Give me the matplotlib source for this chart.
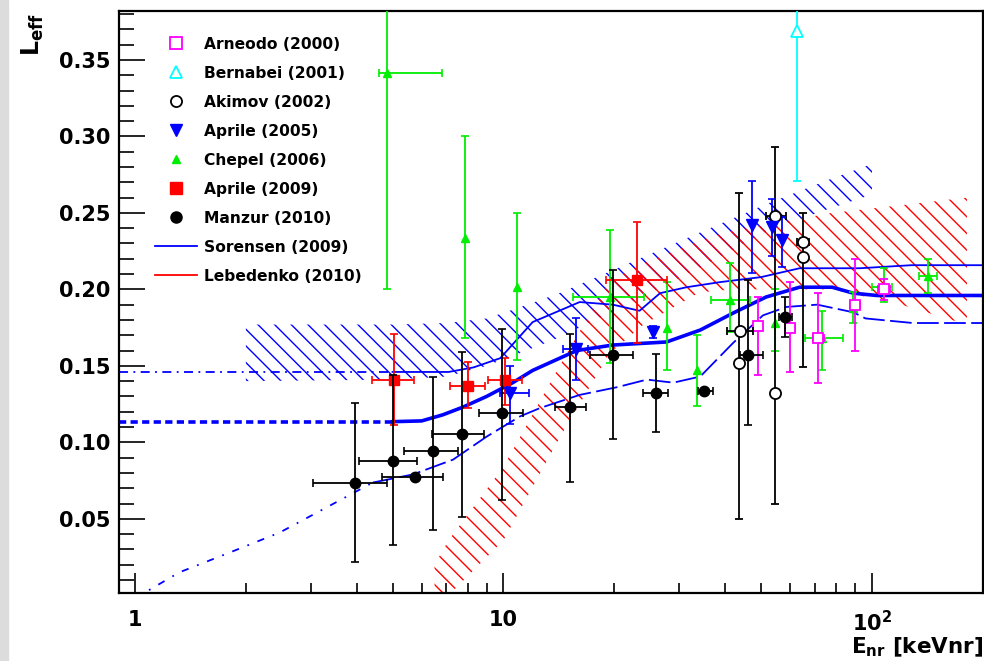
import matplotlib
matplotlib.use('Agg')
import matplotlib.pyplot as plt
from matplotlib.lines import Line2D
from matplotlib.patches import Rectangle
from matplotlib.ticker import MultipleLocator, LogLocator, NullFormatter, FixedLocator
import numpy as np

nan = np.nan

# ---- data ----
# Arneodo (2000)
arn_x = [49.0, 59.9, 71.3, 89.9, 108.0]
arn_y = [0.176, 0.175, 0.168, 0.190, 0.200]
arn_xlo = [nan, 58.0, 69.0, 87.0, 104.0]
arn_xhi = [nan, 62.0, 74.0, 93.0, 112.0]
arn_ylo = [0.144, 0.146, 0.139, 0.160, 0.193]
arn_yhi = [0.195, 0.205, 0.1975, 0.220, 0.207]

# Bernabei (2001)
ber_x = [62.6]
ber_y = [0.369]
ber_ylo = [0.271]
ber_yhi = [0.40]

# Akimov (2002)
aki_x = [54.6, 65.0, 65.0, 43.8, 43.5, 54.6]
aki_y = [0.248, 0.231, 0.221, 0.173, 0.152, 0.132]
aki_xlo = [51.7, 62.5, nan, 40.4, nan, nan]
aki_xhi = [58.6, 67.5, nan, 47.5, nan, nan]
aki_ylo = [nan, nan, 0.149, nan, 0.050, 0.060]
aki_yhi = [nan, nan, 0.250, nan, 0.263, 0.293]

# Aprile (2005)
a05_x = [10.4, 15.7, 25.5, 47.2, 53.5, 57.0]
a05_y = [0.132, 0.161, 0.172, 0.242, 0.241, 0.232]
a05_xlo = [9.8, 14.5, nan, nan, nan, nan]
a05_xhi = [11.7, 17.0, nan, nan, nan, nan]
a05_ylo = [0.112, 0.141, 0.168, 0.2105, 0.222, 0.2145]
a05_yhi = [0.150, 0.181, 0.176, 0.271, 0.259, 0.247]

# Chepel (2006)
che_x = [4.83, 7.87, 10.9, 19.5, 27.8, 33.5, 41.2, 54.6, 73.2, 88.8, 108.0, 142.0]
che_y = [0.3416, 0.2334, 0.2014, 0.195, 0.1747, 0.147, 0.193, 0.178, 0.168, 0.188, 0.2014, 0.2086]
che_xlo = [4.6, nan, nan, 15.4, nan, nan, 36.6, nan, 65.9, nan, 100.0, 134.0]
che_xhi = [6.8, nan, nan, 24.1, nan, nan, 46.6, nan, 83.5, nan, 113.0, 150.0]
che_ylo = [0.200, 0.168, 0.154, 0.152, 0.147, 0.124, 0.172, 0.160, 0.147, 0.178, 0.192, 0.1975]
che_yhi = [0.40, 0.3005, 0.250, 0.2385, 0.205, 0.170, 0.217, 0.200, 0.186, 0.198, 0.214, 0.220]

# Aprile (2009)
a09_x = [5.05, 8.01, 10.1, 23.0]
a09_y = [0.141, 0.137, 0.141, 0.206]
a09_xlo = [4.40, 7.17, 9.07, 19.0]
a09_xhi = [5.71, 8.90, 11.2, 27.8]
a09_ylo = [0.111, 0.1225, 0.1245, 0.165]
a09_yhi = [0.171, 0.1525, 0.155, 0.244]

# Manzur (2010)
man_x = [3.95, 5.0, 5.75, 6.44, 7.72, 9.9, 15.2, 19.8, 25.9, 35.0, 46.1, 58.1]
man_y = [0.0737, 0.088, 0.077, 0.094, 0.1056, 0.119, 0.123, 0.157, 0.132, 0.1336, 0.157, 0.182]
man_xlo = [3.04, 4.05, 4.68, 5.37, 6.4, 8.6, 13.8, 17.2, 23.9, 33.8, 43.8, 56.0]
man_xhi = [4.83, 5.83, 6.85, 7.53, 8.85, 11.3, 16.8, 22.5, 27.9, 37.0, 50.6, 60.5]
man_ylo = [0.0215, 0.0326, nan, 0.043, 0.0515, 0.0626, 0.074, 0.102, 0.107, nan, 0.111, 0.169]
man_yhi = [0.126, 0.144, nan, 0.143, 0.159, 0.174, 0.171, 0.2125, 0.158, nan, 0.206, 0.195]

# Sorensen (2009) curves
sor_mid_x = [5.0, 6.0, 6.85, 7.76, 9.0, 10.6, 12.0, 15.8, 19.8, 27.7, 34.2, 42.0, 51.6, 63.6, 78.0, 89.0, 103.0, 200.0]
sor_mid_y = [0.1135, 0.114, 0.118, 0.123, 0.130, 0.139, 0.147, 0.160, 0.1636, 0.1656, 0.1734, 0.1845, 0.195, 0.2014, 0.2014, 0.1975, 0.196, 0.196]
sor_mid_ext_x = [0.905, 5.0]
sor_mid_ext_y = [0.1135, 0.1135]

sor_up_x = [5.0, 7.1, 8.3, 9.8, 12.0, 16.1, 19.8, 23.4, 26.6, 31.4, 38.6, 50.0, 63.6, 92.6, 128.0, 200.0]
sor_up_y = [0.146, 0.146, 0.149, 0.155, 0.1786, 0.1917, 0.190, 0.186, 0.1975, 0.2014, 0.2047, 0.208, 0.2138, 0.2138, 0.2158, 0.2158]
sor_up_ext_x = [0.905, 5.0]
sor_up_ext_y = [0.146, 0.146]

sor_lo_x = [4.42, 5.68, 7.3, 9.0, 11.1, 12.6, 16.1, 20.3, 24.5, 28.9, 34.2, 42.0, 50.6, 58.6, 71.0, 89.0, 96.0, 129.0, 200.0]
sor_lo_y = [0.0737, 0.079, 0.0887, 0.1037, 0.117, 0.1225, 0.131, 0.136, 0.141, 0.139, 0.143, 0.165, 0.183, 0.1885, 0.190, 0.185, 0.181, 0.178, 0.178]
sor_lo_ext_x = [1.0, 1.32, 1.81, 2.47, 3.17, 4.42]
sor_lo_ext_y = [-0.002, 0.015, 0.028, 0.041, 0.055, 0.0737]

# Sorensen band
sband_x = [2.0, 5.0, 7.0, 9.0, 11.0, 14.0, 20.0, 34.0, 52.0, 75.0, 100.0]
sband_up = [0.177, 0.177, 0.178, 0.181, 0.188, 0.197, 0.213, 0.237, 0.256, 0.271, 0.282]
sband_lo = [0.140, 0.141, 0.143, 0.150, 0.158, 0.168, 0.186, 0.214, 0.238, 0.252, 0.262]

# Lebedenko (2010) band
lband_x = [6.5, 7.1, 10.0, 14.2, 19.4, 24.0, 34.0, 42.0, 78.0, 120.0, 181.0]
lband_up = [0.020, 0.036, 0.084, 0.150, 0.206, 0.217, 0.232, 0.2386, 0.250, 0.255, 0.260]
lband_lo = [-0.010, 0.000, 0.036, 0.103, 0.158, 0.177, 0.198, 0.200, 0.200, 0.190, 0.177]

labels = ['Arneodo (2000)', 'Bernabei (2001)', 'Akimov (2002)', 'Aprile (2005)',
          'Chepel (2006)', 'Aprile (2009)', 'Manzur (2010)', 'Sorensen (2009)', 'Lebedenko (2010)']

plt.rcParams['font.family'] = 'DejaVu Sans'
plt.rcParams['font.weight'] = 'bold'
plt.rcParams['axes.labelweight'] = 'bold'
plt.rcParams['hatch.linewidth'] = 1.0

fig = plt.figure(figsize=(9.84, 6.61), dpi=100)
fig.patches.append(Rectangle((0, 0), 8 / 984, 1, transform=fig.transFigure,
                             color='#dcdcdc', zorder=0))
ax = fig.add_axes([0.1209, 0.1029, 0.8780, 0.8805])
ax.set_xscale('log')


def err(v, lo, hi):
    v = np.array(v, float)
    return np.vstack([v - np.array(lo, float), np.array(hi, float) - v])


def series(x, y, xlo=None, xhi=None, ylo=None, yhi=None, **kw):
    n = len(x)
    if xlo is None:
        xlo = xhi = [nan] * n
    if ylo is None:
        ylo = yhi = [nan] * n
    ax.errorbar(x, y, xerr=err(x, xlo, xhi), yerr=err(y, ylo, yhi), ls='none',
                capsize=3, capthick=1.2, elinewidth=1.3, **kw)


# bands
ax.fill_between(sband_x, sband_lo, sband_up, facecolor='none', edgecolor='#0000ff',
                hatch='\\\\', linewidth=0, zorder=1)
ax.fill_between(lband_x, lband_lo, lband_up, facecolor='none', edgecolor='#ff0000',
                hatch='\\\\', linewidth=0, zorder=1)

# Sorensen curves
ax.plot(sor_mid_x, sor_mid_y, color='#0000ff', lw=2.6, zorder=2)
ax.plot(sor_mid_ext_x, sor_mid_ext_y, color='#0000ff', lw=2.6, ls=(0, (2, 1.2)), zorder=2)
ax.plot(sor_up_x, sor_up_y, color='#0000ff', lw=1.3, zorder=2)
ax.plot(sor_up_ext_x, sor_up_ext_y, color='#0000ff', lw=1.3, ls=(0, (5, 3, 1, 3)), zorder=2)
ax.plot(sor_lo_x, sor_lo_y, color='#0000ff', lw=1.3, ls=(0, (12, 3)), zorder=2)
ax.plot(sor_lo_ext_x, sor_lo_ext_y, color='#0000ff', lw=1.3, ls=(0, (4, 5, 1, 5)), zorder=2)

# data sets
series(che_x, che_y, che_xlo, che_xhi, che_ylo, che_yhi, color='#00ee00', marker='^',
       ms=6, zorder=3)
series(arn_x, arn_y, arn_xlo, arn_xhi, arn_ylo, arn_yhi, color='#ff00ff', marker='s',
       ms=7, mfc='white', mew=1.3, zorder=4)
series(ber_x, ber_y, None, None, ber_ylo, ber_yhi, color='#00ffff', marker='^',
       ms=9, mfc='white', mew=1.3, zorder=4)
series(aki_x, aki_y, aki_xlo, aki_xhi, aki_ylo, aki_yhi, color='black', marker='o',
       ms=8, mfc='white', mew=1.3, zorder=5)
series(a05_x, a05_y, a05_xlo, a05_xhi, a05_ylo, a05_yhi, color='#0000ff', marker='v',
       ms=8, zorder=5)
series(a09_x, a09_y, a09_xlo, a09_xhi, a09_ylo, a09_yhi, color='#ff0000', marker='s',
       ms=7.5, zorder=5)
series(man_x, man_y, man_xlo, man_xhi, man_ylo, man_yhi, color='black', marker='o',
       ms=7.5, zorder=6)

ax.set_xlim(0.905, 200)
ax.set_ylim(0.0015, 0.382)

# axes styling
for s in ax.spines.values():
    s.set_linewidth(1.6)
ax.xaxis.set_major_locator(FixedLocator([1, 10, 100]))
ax.set_xticklabels(['1', '10', r'10$^{\mathbf{2}}$'])
ax.xaxis.set_minor_locator(LogLocator(base=10, subs=np.arange(2, 10), numticks=20))
ax.xaxis.set_minor_formatter(NullFormatter())
ax.set_yticks(np.arange(0.05, 0.351, 0.05))
ax.set_yticklabels(['%.2f' % v for v in np.arange(0.05, 0.351, 0.05)])
ax.yaxis.set_minor_locator(MultipleLocator(0.01))
ax.tick_params(axis='x', which='major', direction='in', length=14.4, width=1.2, pad=12, labelsize=15)
ax.tick_params(axis='x', which='minor', direction='in', length=7.2, width=1.2)
ax.tick_params(axis='y', which='major', direction='in', length=18.7, width=1.2, pad=6, labelsize=15)
ax.tick_params(axis='y', which='minor', direction='in', length=10.8, width=1.2)

ax.set_xlabel(r'E$_{\mathbf{nr}}$ [keVnr]', fontsize=15.5, loc='right')
ax.xaxis.set_label_coords(1.0, -0.074)
ax.set_ylabel(r'L$_{\mathbf{eff}}$', fontsize=17, loc='top')
ax.yaxis.set_label_coords(-0.084, 0.997)

# legend
handles = [
    Line2D([], [], ls='none', marker='s', ms=8, mfc='white', mec='#ff00ff', mew=1.3),
    Line2D([], [], ls='none', marker='^', ms=9, mfc='white', mec='#00ffff', mew=1.3),
    Line2D([], [], ls='none', marker='o', ms=8, mfc='white', mec='black', mew=1.3),
    Line2D([], [], ls='none', marker='v', ms=8, color='#0000ff'),
    Line2D([], [], ls='none', marker='^', ms=6, color='#00ee00'),
    Line2D([], [], ls='none', marker='s', ms=8, color='#ff0000'),
    Line2D([], [], ls='none', marker='o', ms=8, color='black'),
    Line2D([], [], color='#0000ff', lw=1.3),
    Line2D([], [], color='#ff0000', lw=1.3),
]
ax.legend(handles, labels, loc='upper left', bbox_to_anchor=(0.0417, 0.956),
          frameon=False, fontsize=11.2, handlelength=2.7, handletextpad=0.45,
          labelspacing=0.9, borderpad=0, borderaxespad=0)

fig.savefig('out.png', dpi=100)
